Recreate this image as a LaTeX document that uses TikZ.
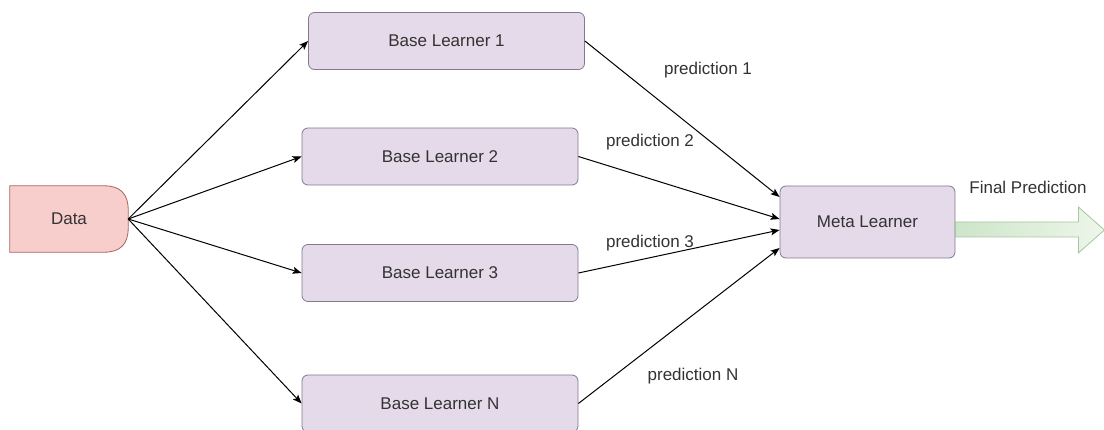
\documentclass[tikz,border=0pt]{standalone}
\usepackage{fontspec}
\setmainfont{Liberation Sans}
\usetikzlibrary{arrows.meta,backgrounds,calc}
\definecolor{lfill}{HTML}{E4DAEA}
\definecolor{ldraw}{HTML}{857890}
\definecolor{dfill}{HTML}{F8CECC}
\definecolor{ddraw}{HTML}{A8635E}
\definecolor{gleft}{HTML}{CDE5C9}
\definecolor{gright}{HTML}{EEF6EA}
\definecolor{gdraw}{HTML}{A8C6A0}
\definecolor{txt}{HTML}{333333}
\begin{document}
\begin{tikzpicture}[x=1pt,y=-1pt, font=\fontsize{17}{20}\selectfont, text=txt,
  learner/.style={draw=ldraw, fill=lfill, rounded corners=6pt, minimum width=276pt, minimum height=57pt, line width=0.8pt},
  conn/.style={-{Stealth[length=9pt,width=7pt,inset=2pt]}, line width=1pt, black},
  lbl/.style={text=txt}]
\useasboundingbox (0,0) rectangle (1104,430);
\begin{scope}[on background layer]
\fill[white] (0,0) rectangle (1104,430);
\end{scope}
% nodes
\node[learner] (b1) at (446.5,41) {Base Learner 1};
\node[learner] (b2) at (440,156.5) {Base Learner 2};
\node[learner] (b3) at (440,273) {Base Learner 3};
\node[learner] (bn) at (440,403.5) {Base Learner N};
\node[learner, minimum width=175pt, minimum height=72pt] (meta) at (867.5,222) {Meta Learner};
\node[minimum width=118pt, minimum height=66pt] (data) at (69,219) {Data};
\begin{scope}[on background layer]
\draw[draw=ddraw, fill=dfill, line width=0.8pt]
  (data.south west) -- (data.north west) -- ($(data.north east)+(-24,0)$)
  .. controls ($(data.north east)+(-8,0)$) and ($(data.north east)+(0,8)$) .. ($(data.north east)+(0,24)$)
  -- ($(data.south east)+(0,-24)$)
  .. controls ($(data.south east)+(0,-8)$) and ($(data.south east)+(-8,0)$) .. ($(data.south east)+(-24,0)$) -- cycle;
\end{scope}
% input connectors
\draw[conn] (data.east) -- (b1.west);
\draw[conn] (data.east) -- (b2.west);
\draw[conn] (data.east) -- (b3.west);
\draw[conn] (data.east) -- (bn.west);
% output connectors
\draw[conn] (b1.east) -- ([yshift=25pt]meta.west);
\draw[conn] (b2.east) -- ([yshift=3pt]meta.west);
\draw[conn] (b3.east) -- ([yshift=-8pt]meta.west);
\draw[conn] (bn.east) -- ([yshift=-26pt]meta.west);
% labels
\node[lbl] (p1) at (708,70) {prediction 1};
\node[lbl] (p2) at (650,142) {prediction 2};
\node[lbl] (p3) at (650,243) {prediction 3};
\node[lbl] (pn) at (693,376) {prediction N};
% final arrow
\coordinate (fa) at ([yshift=0pt]meta.east);
\draw[draw=gdraw, line width=0.8pt, left color=gleft, right color=gright]
  (fa) -- ++(123,0) -- ++(0,-15) -- ++(26,23) -- ++(-26,23) -- ++(0,-16) -- ++(-123,0) -- cycle;
\node[lbl] (fp) at (1028,187) {Final Prediction};
\end{tikzpicture}
\end{document}
